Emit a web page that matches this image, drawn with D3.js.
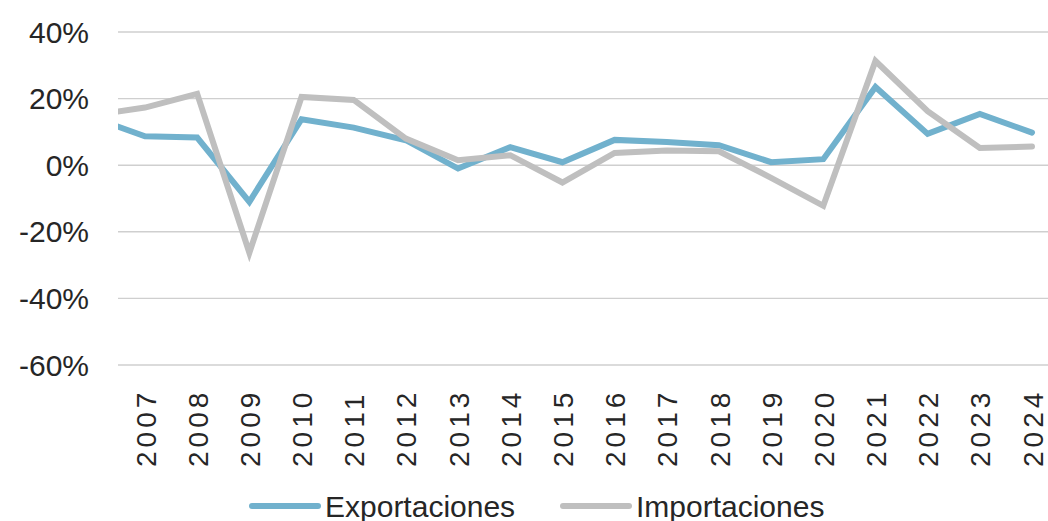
<!DOCTYPE html>
<html>
<head>
<meta charset="utf-8">
<script src="https://cdn.jsdelivr.net/npm/d3@7"></script>
<style>
  body { margin: 0; background: #fff; }
  text { font-family: "Liberation Sans", Arial, sans-serif; fill: #262626; }
</style>
</head>
<body>
<svg id="chartSvg" width="1048" height="521"></svg>
<script>
// years (2006 only feeds the line that enters from the left edge)
const years = [2006, 2007, 2008, 2009, 2010, 2011, 2012, 2013, 2014, 2015,
               2016, 2017, 2018, 2019, 2020, 2021, 2022, 2023, 2024];
const labelYears = years.slice(1);
const exportaciones = [14.3, 8.7, 8.3, -11.0, 13.8, 11.3, 7.5, -1.0, 5.4, 0.9,
                       7.6, 7.0, 6.0, 0.9, 1.8, 23.5, 9.4, 15.4, 9.8];
const importaciones = [15.0, 17.3, 21.4, -26.3, 20.5, 19.6, 8.0, 1.5, 3.0, -5.2,
                       3.7, 4.4, 4.2, -3.8, -12.2, 31.3, 16.2, 5.2, 5.6];
const yTicks = [-60, -40, -20, 0, 20, 40];
const seriesNames = ["Exportaciones", "Importaciones"];
const seriesColors = ["#71b1cd", "#bfbfbf"];

const svg = d3.select("#chartSvg");
const plotLeft = 118, plotRight = 1048;

let x = d3.scaleLinear().domain([2007, 2024]).range([145, 1032]);
let y = d3.scaleLinear().domain([-60, 40]).range([365, 32]);

// gridlines
svg.append("g")
  .selectAll("line")
  .data(yTicks)
  .enter().append("line")
  .attr("x1", plotLeft)
  .attr("x2", plotRight)
  .attr("y1", d => y(d))
  .attr("y2", d => y(d))
  .style("stroke", "#cfcfcf")
  .style("stroke-width", 1.4);

// y axis labels
svg.append("g")
  .selectAll("text")
  .data(yTicks)
  .enter().append("text")
  .attr("x", 89)
  .attr("y", d => y(d))
  .attr("text-anchor", "end")
  .attr("dominant-baseline", "central")
  .style("font-size", "30px")
  .text(d => d + "%");

// x axis labels (rotated, read bottom to top)
let xAxis = svg.append("g")
  .attr("transform", "translate(0,467)")
  .call(d3.axisBottom(x).tickValues(labelYears).tickFormat(d3.format("d")).tickSize(0));
xAxis.select(".domain").remove();
xAxis.selectAll("text")
  .attr("transform", "rotate(-90)")
  .attr("x", 0)
  .attr("y", 0)
  .attr("dy", "0.36em")
  .attr("text-anchor", "start")
  .style("font-size", "28px")
  .style("letter-spacing", "4px")
  .style("font-family", "\"Liberation Sans\", Arial, sans-serif")
  .style("fill", "#262626");

// clip so the 2006 segment only shows from the plot edge
svg.append("clipPath").attr("id", "plotClip")
  .append("rect")
  .attr("x", plotLeft).attr("y", 0)
  .attr("width", plotRight - plotLeft).attr("height", 400);

let line = d3.line()
  .x((d, i) => x(years[i]))
  .y(d => y(d));

[exportaciones, importaciones].forEach(function (vals, k) {
  svg.append("path")
    .datum(vals)
    .attr("clip-path", "url(#plotClip)")
    .attr("d", line)
    .style("fill", "none")
    .style("stroke", seriesColors[k])
    .style("stroke-width", 6)
    .style("stroke-linejoin", "miter")
    .style("stroke-linecap", "round");
});

// legend
let legendX = [252, 563];
let legend = svg.append("g")
  .selectAll("g")
  .data(seriesNames)
  .enter().append("g")
  .attr("transform", (d, i) => "translate(" + legendX[i] + ",506)");
legend.append("line")
  .attr("x1", 0).attr("x2", 66)
  .style("stroke", (d, i) => seriesColors[i])
  .style("stroke-width", 6)
  .style("stroke-linecap", "round");
legend.append("text")
  .attr("x", 73)
  .attr("dy", "0.35em")
  .style("font-size", "30px")
  .text(d => d);
</script>
</body>
</html>
